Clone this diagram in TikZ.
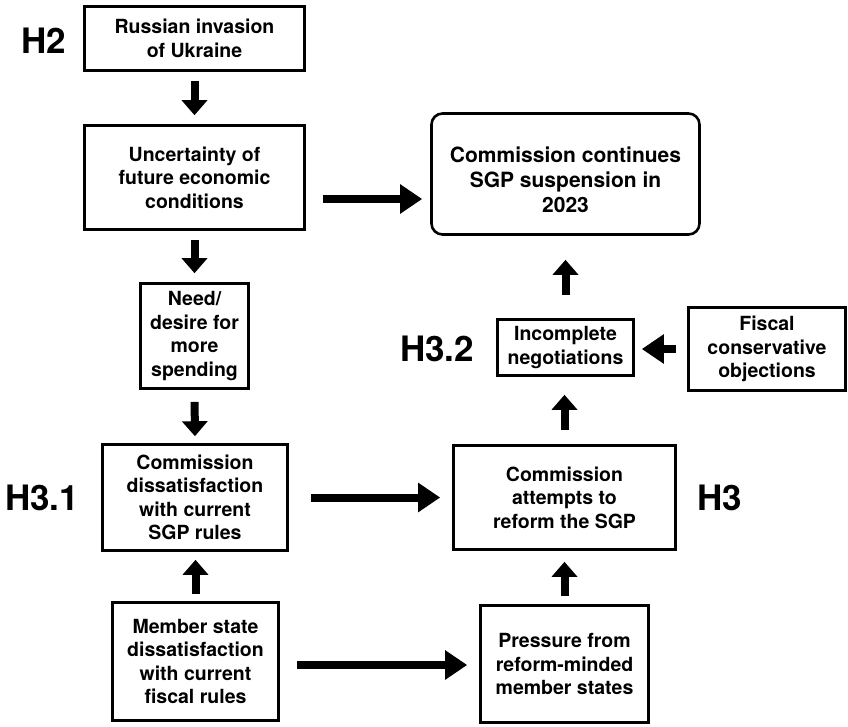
\documentclass[tikz,border=0pt]{standalone}
\usepackage{fontspec}
\setmainfont{TeX Gyre Heros}
\usetikzlibrary{arrows.meta,calc}
\begin{document}
\begin{tikzpicture}[x=1pt,y=-1pt,
  box/.style={draw,line width=2.6pt,align=center,inner sep=0pt,
    font=\bfseries\fontsize{19.5}{23.5}\selectfont},
  rbox/.style={box,rounded corners=11pt,font=\bfseries\fontsize{21}{25}\selectfont},
  hlab/.style={font=\bfseries\fontsize{35}{35}\selectfont,inner sep=0pt},
  varrow/.style={line width=8pt,-{Triangle[length=15pt,width=25pt]}},
  harrow/.style={line width=8pt,-{Triangle[length=22pt,width=28pt]}}]
\useasboundingbox (0,0) rectangle (848,726);
% boxes
\node[box,minimum width=220pt,minimum height=64pt] (rus) at (194.5,38.5) {Russian invasion\\of Ukraine};
\node[box,minimum width=220pt,minimum height=104pt] (unc) at (194.5,177.5) {Uncertainty of\\future economic\\conditions};
\node[box,minimum width=108pt,minimum height=105pt] (need) at (194.5,336) {Need/\\desire for\\more\\spending};
\node[box,minimum width=185pt,minimum height=106pt] (cdis) at (195,497.5) {Commission\\dissatisfaction\\with current\\SGP rules};
\node[box,minimum width=166pt,minimum height=118pt] (mem) at (195.5,661.5) {Member state\\dissatisfaction\\with current\\fiscal rules};
\node[rbox,minimum width=268pt,minimum height=121pt] (cont) at (565.5,174) {\rule{0pt}{27pt}Commission continues\\SGP suspension in\\2023};
\node[box,minimum width=136pt,minimum height=56pt] (inc) at (565.5,347.5) {Incomplete\\negotiations};
\node[box,minimum width=157pt,minimum height=83pt] (fisc) at (767,349) {Fiscal\\conservative\\objections};
\node[box,minimum width=222pt,minimum height=104pt] (att) at (564.5,497.5) {Commission\\attempts to\\reform the SGP};
\node[box,minimum width=168pt,minimum height=117pt] (pres) at (564.5,664) {Pressure from\\reform-minded\\member states};
% hypothesis labels
\node[hlab] (h2) at (43.5,41) {H2};
\node[hlab] (h31) at (42,498) {H3.1};
\node[hlab] (h32) at (437,349) {H3.2};
\node[hlab] (h3) at (720,498) {H3};
% arrows
\draw[varrow,shorten <=9pt,shorten >=9pt] (rus.south) -- (unc.north);
\draw[varrow,shorten <=9pt,shorten >=9pt] (unc.south) -- (need.north);
\draw[varrow,shorten <=12pt,shorten >=7pt] (need.south) -- (cdis.north);
\draw[varrow,shorten <=7pt,shorten >=8pt] (mem.north) -- (mem.north |- cdis.south);
\draw[varrow,shorten <=8pt,shorten >=11pt] (pres.north) -- (att.south);
\draw[varrow,shorten <=14pt,shorten >=18pt] (att.north) -- (att.north |- inc.south);
\draw[varrow,shorten <=23pt,shorten >=24pt] (inc.north) -- (inc.north |- cont.south);
\draw[harrow,shorten <=11pt,shorten >=7pt] (fisc.west) -- (fisc.west -| inc.east);
\draw[harrow,shorten <=22pt,shorten >=12pt] (cdis.east) -- (att.west);
\draw[harrow] ([xshift=17pt,yshift=-21.5pt]unc.east) -- ([xshift=-8pt,yshift=-25pt]cont.west);
\draw[harrow] ([xshift=17pt,yshift=-3.5pt]mem.east) -- ([xshift=-12pt,yshift=-1pt]pres.west);
\end{tikzpicture}
\end{document}
